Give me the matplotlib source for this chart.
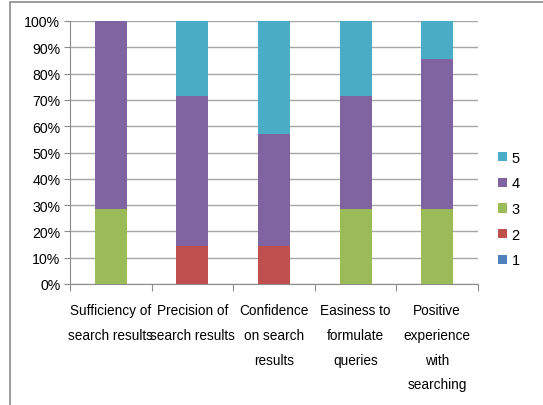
import numpy as np
import matplotlib.pyplot as plt
from matplotlib.patches import Rectangle
from matplotlib.ticker import PercentFormatter

plt.rcParams['font.family'] = ['Liberation Sans', 'DejaVu Sans']

categories = ['Sufficiency of\nsearch results', 'Precision of\nsearch results',
              'Confidence\non search\nresults', 'Easiness to\nformulate\nqueries',
              'Positive\nexperience\nwith\nsearching']
levels = ['1', '2', '3', '4', '5']
# answer counts per level (7 respondents)
counts_1 = [0, 0, 0, 0, 0]
counts_2 = [0, 1, 1, 0, 0]
counts_3 = [2, 0, 0, 2, 2]
counts_4 = [5, 4, 3, 3, 4]
counts_5 = [0, 2, 3, 2, 1]
colors = ['#4F81BD', '#C0504D', '#9BBB59', '#8064A2', '#4BACC6']

data = np.array([counts_1, counts_2, counts_3, counts_4, counts_5], dtype=float)
share = data / data.sum(axis=0) * 100

fig = plt.figure(figsize=(5.43, 4.06), dpi=100)
ax = fig.add_axes([70 / 543, 121 / 406, 408 / 543, 263 / 406])

# outer chart frame
fig.patches.append(Rectangle((10 / 543, -0.1), 1.0, 1.1 - 3 / 406, transform=fig.transFigure,
                             fill=False, edgecolor='#8c8c8c', linewidth=1.2))

x = np.arange(len(categories))
bottom = np.zeros(len(categories))
for lvl, vals, c in zip(levels, share, colors):
    ax.bar(x, vals, width=0.39, bottom=bottom, color=c, label=lvl, zorder=3)
    bottom += vals

ax.set_xlim(-0.5, len(categories) - 0.5)
ax.set_ylim(0, 100)
ax.set_yticks(np.arange(0, 101, 10))
ax.yaxis.set_major_formatter(PercentFormatter(decimals=0))
ax.grid(axis='y', color='#a6a6a6', linewidth=1, zorder=0)

ax.set_xticks(np.arange(-0.5, len(categories), 1))
ax.set_xticklabels([])
ax.set_xticks(x, minor=True)
ax.set_xticklabels(categories, minor=True, linespacing=1.96, fontsize=9.8, va='top')
ax.tick_params(axis='x', which='minor', length=0, pad=14)
ax.tick_params(axis='x', which='major', length=5, color='#8c8c8c')
ax.tick_params(axis='y', length=4, color='#8c8c8c', labelsize=10.2, pad=3)

for s in ['top', 'right']:
    ax.spines[s].set_visible(False)
for s in ['left', 'bottom']:
    ax.spines[s].set_color('#8c8c8c')

handles, labels = ax.get_legend_handles_labels()
ax.legend(handles[::-1], labels[::-1], loc='center left', bbox_to_anchor=(1.018, 0.285),
          frameon=False, fontsize=10.5, handlelength=0.6, handleheight=0.6,
          handletextpad=0.3, labelspacing=0.8)

fig.savefig('out.png', dpi=100)
